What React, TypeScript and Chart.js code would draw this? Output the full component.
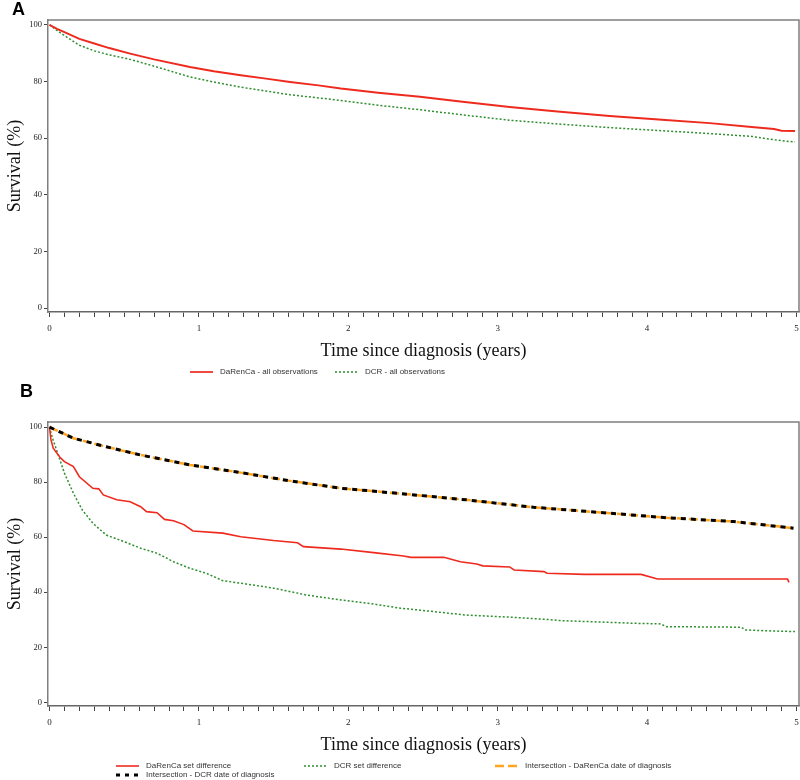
import React, { useEffect, useRef } from "react";
import { Chart, registerables } from "chart.js";

Chart.register(...registerables);

// ---------- Panel A data ----------
const timeA_DaRenCa = [0, 0.05, 0.1, 0.2, 0.3, 0.4, 0.54, 0.7, 0.94, 1.1, 1.28, 1.45, 1.61, 1.8, 1.95, 2.2, 2.48, 2.75, 3.08, 3.4, 3.75, 4.1, 4.42, 4.7, 4.85, 4.9, 4.99];
const survA_DaRenCa = [100, 98.6, 97.4, 95.0, 93.4, 91.8, 89.8, 87.8, 85.1, 83.6, 82.2, 81.0, 79.8, 78.6, 77.5, 76.0, 74.6, 72.9, 71.0, 69.4, 67.8, 66.5, 65.3, 63.9, 63.2, 62.6, 62.5];

const timeA_DCR = [0, 0.05, 0.1, 0.2, 0.3, 0.4, 0.54, 0.7, 0.94, 1.1, 1.28, 1.45, 1.61, 1.8, 1.95, 2.2, 2.48, 2.75, 3.08, 3.4, 3.75, 4.1, 4.42, 4.7, 4.85, 4.99];
const survA_DCR = [100, 98.0, 96.2, 92.8, 90.8, 89.4, 87.8, 85.4, 81.6, 79.8, 78.0, 76.6, 75.3, 74.2, 73.3, 71.6, 70.0, 68.3, 66.3, 65.0, 63.7, 62.6, 61.6, 60.6, 59.4, 58.6];

// ---------- Panel B data ----------
const timeB_DaRenCaDiff = [0, 0.01, 0.025, 0.07, 0.1, 0.16, 0.2, 0.29, 0.33, 0.36, 0.45, 0.54, 0.61, 0.65, 0.72, 0.77, 0.83, 0.9, 0.96, 1.16, 1.28, 1.5, 1.66, 1.7, 1.95, 2.17, 2.37, 2.42, 2.64, 2.75, 2.86, 2.9, 3.08, 3.11, 3.31, 3.33, 3.58, 3.96, 4.07, 4.94, 4.95];
const survB_DaRenCaDiff = [100, 95.4, 92.4, 89.1, 87.5, 85.7, 82.0, 77.8, 77.6, 75.4, 73.6, 72.9, 71.1, 69.3, 68.9, 66.5, 66.0, 64.6, 62.3, 61.5, 60.2, 58.8, 58.0, 56.6, 55.7, 54.4, 53.2, 52.7, 52.7, 51.1, 50.3, 49.6, 49.2, 48.1, 47.5, 46.9, 46.5, 46.5, 44.8, 44.8, 43.6];

const timeB_DCRDiff = [0, 0.02, 0.04, 0.1, 0.16, 0.22, 0.29, 0.38, 0.5, 0.61, 0.72, 0.83, 0.94, 1.05, 1.16, 1.28, 1.5, 1.72, 1.95, 2.17, 2.35, 2.48, 2.79, 3.1, 3.31, 3.42, 3.93, 4.09, 4.13, 4.63, 4.66, 4.8, 4.99];
const survB_DCRDiff = [100, 96.0, 92.9, 83.3, 76.0, 69.9, 65.1, 60.8, 58.4, 56.0, 54.2, 51.1, 48.7, 46.9, 44.2, 43.3, 41.5, 39.0, 37.2, 35.7, 34.2, 33.5, 31.7, 30.9, 30.2, 29.7, 28.7, 28.5, 27.5, 27.3, 26.3, 26.0, 25.7];

const timeB_Intersection = [0, 0.05, 0.16, 0.38, 0.61, 0.94, 1.28, 1.61, 1.95, 2.2, 2.48, 2.79, 3.24, 3.69, 4.13, 4.58, 4.98];
const survB_IntersectionDaRenCa = [100, 98.8, 96.0, 92.9, 89.9, 86.3, 83.5, 80.5, 77.8, 76.6, 75.2, 73.6, 70.9, 69.0, 67.1, 65.7, 63.3];
const survB_IntersectionDCR = [100, 98.8, 96.0, 92.9, 89.9, 86.3, 83.5, 80.5, 77.8, 76.6, 75.2, 73.6, 70.9, 69.0, 67.1, 65.7, 63.3];

// ---------- axis ticks ----------
const xMajorTicks = [0, 1, 2, 3, 4, 5];
const xMinorStep = 0.1;
const yTicks = [0, 20, 40, 60, 80, 100];

const xTitle = "Time since diagnosis (years)";
const yTitle = "Survival (%)";

const RED = "#ee2a1e";
const GREEN = "#2f8f2f";
const ORANGE = "#ffa51f";
const BLACK = "#000000";

const pts = (t: number[], v: number[]) => t.map((x, i) => ({ x, y: v[i] }));

type LegendItem = { label: string; color: string; width: number; dash: number[]; x: number; row: number };

function makeConfig(opts: {
  datasets: any[];
  yMin: number;
  yMax: number;
  padTop: number;
  xAxisHeight: number;
  letter: string;
  letterX: number;
  letterY: number;
  legend: LegendItem[];
}) {
  const overlay = {
    id: "overlay",
    afterDraw(chart: any) {
      const { ctx } = chart;
      const { left, top, right, bottom } = chart.chartArea;
      ctx.save();
      // frame top & right
      ctx.strokeStyle = "#7f7f7f";
      ctx.lineWidth = 1.5;
      ctx.setLineDash([]);
      ctx.beginPath();
      ctx.moveTo(left, top);
      ctx.lineTo(right, top);
      ctx.lineTo(right, bottom);
      ctx.stroke();

      // panel letter
      ctx.fillStyle = "#000";
      ctx.font = 'bold 18px "Liberation Sans", Arial, sans-serif';
      ctx.textAlign = "left";
      ctx.textBaseline = "middle";
      ctx.fillText(opts.letter, opts.letterX, opts.letterY);

      // x title
      ctx.font = '18px "Liberation Serif", serif';
      ctx.textAlign = "center";
      ctx.fillStyle = "#111";
      ctx.fillText(xTitle, (left + right) / 2, bottom + 39);

      // y title
      ctx.save();
      ctx.translate(15, (top + bottom) / 2);
      ctx.rotate(-Math.PI / 2);
      ctx.fillText(yTitle, 0, 0);
      ctx.restore();

      // legend
      ctx.font = '8px "Liberation Sans", Arial, sans-serif';
      ctx.textAlign = "left";
      ctx.textBaseline = "middle";
      for (const it of opts.legend) {
        const y = bottom + 60 + it.row * 9;
        ctx.strokeStyle = it.color;
        ctx.lineWidth = it.width;
        ctx.setLineDash(it.dash);
        ctx.beginPath();
        ctx.moveTo(it.x, y);
        ctx.lineTo(it.x + 23, y);
        ctx.stroke();
        ctx.setLineDash([]);
        ctx.fillStyle = "#333";
        ctx.fillText(it.label, it.x + 30, y);
      }
      ctx.restore();
    },
  };

  return {
    type: "line" as const,
    data: { datasets: opts.datasets },
    plugins: [overlay],
    options: {
      animation: false as const,
      responsive: false,
      events: [],
      layout: { padding: { top: opts.padTop, right: 1, left: 0, bottom: 0 } },
      plugins: { legend: { display: false }, tooltip: { enabled: false } },
      elements: { point: { radius: 0 }, line: { tension: 0 } },
      scales: {
        x: {
          type: "linear" as const,
          min: -0.01,
          max: 5.017,
          afterBuildTicks: (s: any) => {
            const n = Math.round((xMajorTicks[xMajorTicks.length - 1] - xMajorTicks[0]) / xMinorStep);
            s.ticks = Array.from({ length: n + 1 }, (_, i) => ({ value: +(xMajorTicks[0] + i * xMinorStep).toFixed(2) }));
          },
          afterFit: (s: any) => {
            s.height = opts.xAxisHeight;
            s.paddingLeft = 0;
            s.paddingRight = 0;
          },
          grid: { drawOnChartArea: false, drawTicks: true, tickLength: 5, color: "#444", lineWidth: 1 },
          border: { display: true, color: "#666", width: 1.5 },
          ticks: {
            autoSkip: false,
            maxRotation: 0,
            padding: 6,
            color: "#222",
            font: { family: '"Liberation Serif", serif', size: 9 },
            callback: (v: any) => {
              const r = Math.round(v);
              return Math.abs(v - r) < 1e-6 && xMajorTicks.includes(r) ? String(r) : "";
            },
          },
        },
        y: {
          type: "linear" as const,
          min: opts.yMin,
          max: opts.yMax,
          afterBuildTicks: (s: any) => {
            s.ticks = yTicks.map((v) => ({ value: v }));
          },
          afterFit: (s: any) => {
            s.width = 48;
            s.paddingTop = 0;
            s.paddingBottom = 0;
          },
          grid: { drawOnChartArea: false, drawTicks: true, tickLength: 4, color: "#444", lineWidth: 1 },
          border: { display: true, color: "#7f7f7f", width: 1.5 },
          ticks: {
            padding: 2,
            color: "#222",
            font: { family: '"Liberation Serif", serif', size: 8.5 },
          },
        },
      },
    },
  };
}

function ChartCanvas({ config, top, height }: { config: any; top: number; height: number }) {
  const ref = useRef<HTMLCanvasElement | null>(null);
  useEffect(() => {
    if (!ref.current) return;
    const chart = new Chart(ref.current, config);
    return () => chart.destroy();
  }, [config]);
  return (
    <canvas
      ref={ref}
      width={800}
      height={height}
      style={{ position: "absolute", left: 0, top, width: 800, height, display: "block" }}
    />
  );
}

const configA = makeConfig({
  datasets: [
    { label: "DaRenCa - all observations", data: pts(timeA_DaRenCa, survA_DaRenCa), borderColor: RED, borderWidth: 1.9, order: 0 },
    { label: "DCR - all observations", data: pts(timeA_DCR, survA_DCR), borderColor: GREEN, borderWidth: 1.5, borderDash: [2, 2], order: 1 },
  ],
  yMin: -1.4,
  yMax: 101.7,
  padTop: 20,
  xAxisHeight: 68,
  letter: "A",
  letterX: 12,
  letterY: 10,
  legend: [
    { label: "DaRenCa - all observations", color: RED, width: 1.7, dash: [], x: 190, row: 0 },
    { label: "DCR - all observations", color: GREEN, width: 1.5, dash: [2, 2], x: 335, row: 0 },
  ],
});

const configB = makeConfig({
  datasets: [
    { label: "Intersection - DCR date of diagnosis", data: pts(timeB_Intersection, survB_IntersectionDCR), borderColor: BLACK, borderWidth: 3, borderDash: [5, 5], order: 0 },
    { label: "Intersection - DaRenCa date of diagnosis", data: pts(timeB_Intersection, survB_IntersectionDaRenCa), borderColor: ORANGE, borderWidth: 2.5, borderDash: [9, 3], order: 1 },
    { label: "DaRenCa set difference", data: pts(timeB_DaRenCaDiff, survB_DaRenCaDiff), borderColor: RED, borderWidth: 1.6, order: 2 },
    { label: "DCR set difference", data: pts(timeB_DCRDiff, survB_DCRDiff), borderColor: GREEN, borderWidth: 1.5, borderDash: [2, 2], order: 3 },
  ],
  yMin: -1.35,
  yMax: 101.9,
  padTop: 42,
  xAxisHeight: 74,
  letter: "B",
  letterX: 20,
  letterY: 12,
  legend: [
    { label: "DaRenCa set difference", color: RED, width: 1.6, dash: [], x: 116, row: 0 },
    { label: "DCR set difference", color: GREEN, width: 1.5, dash: [2, 2], x: 304, row: 0 },
    { label: "Intersection - DaRenCa date of diagnosis", color: ORANGE, width: 2.5, dash: [9, 4], x: 495, row: 0 },
    { label: "Intersection - DCR date of diagnosis", color: BLACK, width: 3, dash: [4, 5], x: 116, row: 1 },
  ],
});

export default function App() {
  return (
    <div style={{ position: "absolute", left: 0, top: 0, width: 800, height: 780, background: "#fff", overflow: "hidden" }}>
      <ChartCanvas config={configA} top={0} height={380} />
      <ChartCanvas config={configB} top={380} height={400} />
    </div>
  );
}
